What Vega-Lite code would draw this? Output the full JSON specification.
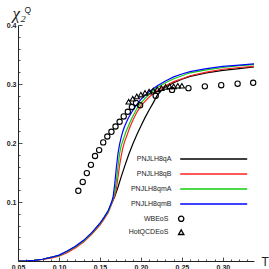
{
  "$schema": "https://vega.github.io/schema/vega-lite/v6.json",
  "width": 236,
  "height": 236,
  "autosize": "none",
  "padding": {"left": 18, "top": 25, "right": 15, "bottom": 8},
  "background": "white",
  "config": {"view": {"stroke": null}, "font": "Liberation Sans"},
  "title": {"text": "Q", "anchor": "start", "frame": "group", "font": "Liberation Sans", "fontSize": 8.5, "fontWeight": "normal", "color": "#222", "dx": 6.5, "dy": 17, "offset": 0, "baseline": "alphabetic"},
  "datasets": {
    "lines": [
      {"T": 0.05, "v": 0.0, "s": "PNJLH8qA"}, {"T": 0.06, "v": 0.0003, "s": "PNJLH8qA"}, {"T": 0.07, "v": 0.001, "s": "PNJLH8qA"}, {"T": 0.08, "v": 0.003, "s": "PNJLH8qA"}, {"T": 0.09, "v": 0.006, "s": "PNJLH8qA"}, {"T": 0.10, "v": 0.009, "s": "PNJLH8qA"}, {"T": 0.11, "v": 0.016, "s": "PNJLH8qA"}, {"T": 0.12, "v": 0.024, "s": "PNJLH8qA"}, {"T": 0.13, "v": 0.034, "s": "PNJLH8qA"}, {"T": 0.14, "v": 0.047, "s": "PNJLH8qA"}, {"T": 0.15, "v": 0.063, "s": "PNJLH8qA"}, {"T": 0.155, "v": 0.073, "s": "PNJLH8qA"}, {"T": 0.16, "v": 0.084, "s": "PNJLH8qA"}, {"T": 0.165, "v": 0.100, "s": "PNJLH8qA"}, {"T": 0.168, "v": 0.109, "s": "PNJLH8qA"}, {"T": 0.172, "v": 0.125, "s": "PNJLH8qA"}, {"T": 0.176, "v": 0.143, "s": "PNJLH8qA"}, {"T": 0.18, "v": 0.160, "s": "PNJLH8qA"}, {"T": 0.185, "v": 0.180, "s": "PNJLH8qA"}, {"T": 0.19, "v": 0.198, "s": "PNJLH8qA"}, {"T": 0.195, "v": 0.214, "s": "PNJLH8qA"}, {"T": 0.20, "v": 0.229, "s": "PNJLH8qA"}, {"T": 0.205, "v": 0.243, "s": "PNJLH8qA"}, {"T": 0.21, "v": 0.256, "s": "PNJLH8qA"}, {"T": 0.215, "v": 0.268, "s": "PNJLH8qA"}, {"T": 0.22, "v": 0.281, "s": "PNJLH8qA"}, {"T": 0.225, "v": 0.289, "s": "PNJLH8qA"}, {"T": 0.23, "v": 0.295, "s": "PNJLH8qA"}, {"T": 0.24, "v": 0.302, "s": "PNJLH8qA"}, {"T": 0.25, "v": 0.308, "s": "PNJLH8qA"}, {"T": 0.26, "v": 0.313, "s": "PNJLH8qA"}, {"T": 0.28, "v": 0.319, "s": "PNJLH8qA"}, {"T": 0.30, "v": 0.323, "s": "PNJLH8qA"}, {"T": 0.32, "v": 0.326, "s": "PNJLH8qA"}, {"T": 0.338, "v": 0.329, "s": "PNJLH8qA"},

      {"T": 0.05, "v": 0.0, "s": "PNJLH8qB"}, {"T": 0.06, "v": 0.0002, "s": "PNJLH8qB"}, {"T": 0.07, "v": 0.0008, "s": "PNJLH8qB"}, {"T": 0.08, "v": 0.0025, "s": "PNJLH8qB"}, {"T": 0.09, "v": 0.005, "s": "PNJLH8qB"}, {"T": 0.10, "v": 0.008, "s": "PNJLH8qB"}, {"T": 0.11, "v": 0.014, "s": "PNJLH8qB"}, {"T": 0.12, "v": 0.022, "s": "PNJLH8qB"}, {"T": 0.13, "v": 0.032, "s": "PNJLH8qB"}, {"T": 0.14, "v": 0.045, "s": "PNJLH8qB"}, {"T": 0.15, "v": 0.061, "s": "PNJLH8qB"}, {"T": 0.155, "v": 0.071, "s": "PNJLH8qB"}, {"T": 0.16, "v": 0.082, "s": "PNJLH8qB"}, {"T": 0.165, "v": 0.099, "s": "PNJLH8qB"}, {"T": 0.168, "v": 0.110, "s": "PNJLH8qB"}, {"T": 0.17, "v": 0.122, "s": "PNJLH8qB"}, {"T": 0.172, "v": 0.142, "s": "PNJLH8qB"}, {"T": 0.174, "v": 0.162, "s": "PNJLH8qB"}, {"T": 0.176, "v": 0.178, "s": "PNJLH8qB"}, {"T": 0.178, "v": 0.192, "s": "PNJLH8qB"}, {"T": 0.18, "v": 0.202, "s": "PNJLH8qB"}, {"T": 0.183, "v": 0.213, "s": "PNJLH8qB"}, {"T": 0.186, "v": 0.225, "s": "PNJLH8qB"}, {"T": 0.1906, "v": 0.240, "s": "PNJLH8qB"}, {"T": 0.195, "v": 0.252, "s": "PNJLH8qB"}, {"T": 0.20, "v": 0.263, "s": "PNJLH8qB"}, {"T": 0.21, "v": 0.278, "s": "PNJLH8qB"}, {"T": 0.22, "v": 0.289, "s": "PNJLH8qB"}, {"T": 0.23, "v": 0.297, "s": "PNJLH8qB"}, {"T": 0.24, "v": 0.304, "s": "PNJLH8qB"}, {"T": 0.25, "v": 0.309, "s": "PNJLH8qB"}, {"T": 0.26, "v": 0.314, "s": "PNJLH8qB"}, {"T": 0.28, "v": 0.320, "s": "PNJLH8qB"}, {"T": 0.30, "v": 0.325, "s": "PNJLH8qB"}, {"T": 0.32, "v": 0.328, "s": "PNJLH8qB"}, {"T": 0.338, "v": 0.330, "s": "PNJLH8qB"},

      {"T": 0.05, "v": 0.0, "s": "PNJLH8qmA"}, {"T": 0.06, "v": 0.0003, "s": "PNJLH8qmA"}, {"T": 0.07, "v": 0.001, "s": "PNJLH8qmA"}, {"T": 0.08, "v": 0.003, "s": "PNJLH8qmA"}, {"T": 0.09, "v": 0.006, "s": "PNJLH8qmA"}, {"T": 0.10, "v": 0.009, "s": "PNJLH8qmA"}, {"T": 0.11, "v": 0.016, "s": "PNJLH8qmA"}, {"T": 0.12, "v": 0.024, "s": "PNJLH8qmA"}, {"T": 0.13, "v": 0.034, "s": "PNJLH8qmA"}, {"T": 0.14, "v": 0.047, "s": "PNJLH8qmA"}, {"T": 0.15, "v": 0.063, "s": "PNJLH8qmA"}, {"T": 0.155, "v": 0.073, "s": "PNJLH8qmA"}, {"T": 0.16, "v": 0.083, "s": "PNJLH8qmA"}, {"T": 0.165, "v": 0.101, "s": "PNJLH8qmA"}, {"T": 0.168, "v": 0.115, "s": "PNJLH8qmA"}, {"T": 0.17, "v": 0.135, "s": "PNJLH8qmA"}, {"T": 0.172, "v": 0.160, "s": "PNJLH8qmA"}, {"T": 0.174, "v": 0.182, "s": "PNJLH8qmA"}, {"T": 0.176, "v": 0.196, "s": "PNJLH8qmA"}, {"T": 0.1795, "v": 0.210, "s": "PNJLH8qmA"}, {"T": 0.182, "v": 0.220, "s": "PNJLH8qmA"}, {"T": 0.187, "v": 0.236, "s": "PNJLH8qmA"}, {"T": 0.19, "v": 0.245, "s": "PNJLH8qmA"}, {"T": 0.195, "v": 0.258, "s": "PNJLH8qmA"}, {"T": 0.20, "v": 0.268, "s": "PNJLH8qmA"}, {"T": 0.21, "v": 0.283, "s": "PNJLH8qmA"}, {"T": 0.22, "v": 0.294, "s": "PNJLH8qmA"}, {"T": 0.23, "v": 0.302, "s": "PNJLH8qmA"}, {"T": 0.24, "v": 0.309, "s": "PNJLH8qmA"}, {"T": 0.25, "v": 0.314, "s": "PNJLH8qmA"}, {"T": 0.26, "v": 0.319, "s": "PNJLH8qmA"}, {"T": 0.28, "v": 0.324, "s": "PNJLH8qmA"}, {"T": 0.30, "v": 0.328, "s": "PNJLH8qmA"}, {"T": 0.32, "v": 0.331, "s": "PNJLH8qmA"}, {"T": 0.338, "v": 0.333, "s": "PNJLH8qmA"},

      {"T": 0.05, "v": 0.0, "s": "PNJLH8qmB"}, {"T": 0.06, "v": 0.0003, "s": "PNJLH8qmB"}, {"T": 0.07, "v": 0.001, "s": "PNJLH8qmB"}, {"T": 0.08, "v": 0.003, "s": "PNJLH8qmB"}, {"T": 0.09, "v": 0.006, "s": "PNJLH8qmB"}, {"T": 0.10, "v": 0.010, "s": "PNJLH8qmB"}, {"T": 0.11, "v": 0.017, "s": "PNJLH8qmB"}, {"T": 0.12, "v": 0.025, "s": "PNJLH8qmB"}, {"T": 0.13, "v": 0.035, "s": "PNJLH8qmB"}, {"T": 0.14, "v": 0.048, "s": "PNJLH8qmB"}, {"T": 0.15, "v": 0.064, "s": "PNJLH8qmB"}, {"T": 0.155, "v": 0.074, "s": "PNJLH8qmB"}, {"T": 0.16, "v": 0.085, "s": "PNJLH8qmB"}, {"T": 0.164, "v": 0.099, "s": "PNJLH8qmB"}, {"T": 0.166, "v": 0.108, "s": "PNJLH8qmB"}, {"T": 0.168, "v": 0.130, "s": "PNJLH8qmB"}, {"T": 0.17, "v": 0.158, "s": "PNJLH8qmB"}, {"T": 0.172, "v": 0.182, "s": "PNJLH8qmB"}, {"T": 0.174, "v": 0.198, "s": "PNJLH8qmB"}, {"T": 0.176, "v": 0.210, "s": "PNJLH8qmB"}, {"T": 0.178, "v": 0.220, "s": "PNJLH8qmB"}, {"T": 0.18, "v": 0.228, "s": "PNJLH8qmB"}, {"T": 0.1845, "v": 0.242, "s": "PNJLH8qmB"}, {"T": 0.19, "v": 0.255, "s": "PNJLH8qmB"}, {"T": 0.195, "v": 0.265, "s": "PNJLH8qmB"}, {"T": 0.20, "v": 0.274, "s": "PNJLH8qmB"}, {"T": 0.21, "v": 0.287, "s": "PNJLH8qmB"}, {"T": 0.22, "v": 0.297, "s": "PNJLH8qmB"}, {"T": 0.23, "v": 0.305, "s": "PNJLH8qmB"}, {"T": 0.24, "v": 0.312, "s": "PNJLH8qmB"}, {"T": 0.25, "v": 0.317, "s": "PNJLH8qmB"}, {"T": 0.26, "v": 0.321, "s": "PNJLH8qmB"}, {"T": 0.28, "v": 0.326, "s": "PNJLH8qmB"}, {"T": 0.30, "v": 0.330, "s": "PNJLH8qmB"}, {"T": 0.32, "v": 0.332, "s": "PNJLH8qmB"}, {"T": 0.338, "v": 0.334, "s": "PNJLH8qmB"}
    ],
    "pts": [
      {"T": 0.1236, "v": 0.119, "s": "WBEoS"}, {"T": 0.129, "v": 0.134, "s": "WBEoS"}, {"T": 0.134, "v": 0.149, "s": "WBEoS"}, {"T": 0.139, "v": 0.163, "s": "WBEoS"}, {"T": 0.144, "v": 0.178, "s": "WBEoS"}, {"T": 0.149, "v": 0.188, "s": "WBEoS"}, {"T": 0.154, "v": 0.201, "s": "WBEoS"}, {"T": 0.159, "v": 0.211, "s": "WBEoS"}, {"T": 0.164, "v": 0.219, "s": "WBEoS"}, {"T": 0.169, "v": 0.228, "s": "WBEoS"}, {"T": 0.174, "v": 0.236, "s": "WBEoS"}, {"T": 0.179, "v": 0.245, "s": "WBEoS"}, {"T": 0.184, "v": 0.253, "s": "WBEoS"}, {"T": 0.189, "v": 0.261, "s": "WBEoS"}, {"T": 0.194, "v": 0.268, "s": "WBEoS"}, {"T": 0.199, "v": 0.264, "s": "WBEoS"}, {"T": 0.218, "v": 0.280, "s": "WBEoS"}, {"T": 0.238, "v": 0.290, "s": "WBEoS"}, {"T": 0.258, "v": 0.293, "s": "WBEoS"}, {"T": 0.278, "v": 0.296, "s": "WBEoS"}, {"T": 0.298, "v": 0.298, "s": "WBEoS"}, {"T": 0.318, "v": 0.3005, "s": "WBEoS"}, {"T": 0.337, "v": 0.302, "s": "WBEoS"},
      {"T": 0.185, "v": 0.270, "s": "HotQCDEoS"}, {"T": 0.19, "v": 0.275, "s": "HotQCDEoS"}, {"T": 0.195, "v": 0.279, "s": "HotQCDEoS"}, {"T": 0.20, "v": 0.282, "s": "HotQCDEoS"}, {"T": 0.205, "v": 0.285, "s": "HotQCDEoS"}, {"T": 0.21, "v": 0.287, "s": "HotQCDEoS"}, {"T": 0.215, "v": 0.289, "s": "HotQCDEoS"}, {"T": 0.22, "v": 0.291, "s": "HotQCDEoS"}, {"T": 0.225, "v": 0.293, "s": "HotQCDEoS"}, {"T": 0.23, "v": 0.295, "s": "HotQCDEoS"}, {"T": 0.235, "v": 0.296, "s": "HotQCDEoS"}, {"T": 0.24, "v": 0.296, "s": "HotQCDEoS"}, {"T": 0.245, "v": 0.297, "s": "HotQCDEoS"}, {"T": 0.25, "v": 0.297, "s": "HotQCDEoS"}
    ]
  },
  "encoding": {
    "x": {
      "field": "T", "type": "quantitative",
      "scale": {"domain": [0.05, 0.338], "nice": false, "zero": false},
      "axis": {
        "values": [0.05,0.06,0.07,0.08,0.09,0.10,0.11,0.12,0.13,0.14,0.15,0.16,0.17,0.18,0.19,0.20,0.21,0.22,0.23,0.24,0.25,0.26,0.27,0.28,0.29,0.30,0.31,0.32,0.33],
        "labelExpr": "abs(datum.value*20 - round(datum.value*20)) < 0.001 ? format(datum.value, '.2f') : ''",
        "labelOverlap": false,
        "labelFont": "Liberation Sans", "labelFontSize": 7, "labelFontWeight": "bold", "labelColor": "#222",
        "labelAlign": "center", "labelBaseline": "top",
        "labelPadding": 6,
        "grid": false,
        "domainColor": "#222", "domainWidth": 1,
        "tickColor": "#222", "tickWidth": 0.8,
        "tickSize": {"condition": {"test": "abs(datum.value*20 - round(datum.value*20)) < 0.001", "value": -4}, "value": -2},
        "title": "T", "titleFont": "Liberation Sans", "titleFontSize": 12, "titleFontWeight": "normal", "titleColor": "#222",
        "titleAngle": 0, "titleAlign": "left", "titleBaseline": "middle", "titleX": 243, "titleY": 0
      }
    },
    "y": {
      "field": "v", "type": "quantitative",
      "scale": {"domain": [0, 0.4], "nice": false},
      "axis": {
        "values": [0,0.02,0.04,0.06,0.08,0.1,0.12,0.14,0.16,0.18,0.2,0.22,0.24,0.26,0.28,0.3,0.32,0.34,0.36,0.38,0.4],
        "labelExpr": "abs(datum.value*10 - round(datum.value*10)) < 0.001 && datum.value > 0 ? format(datum.value, '.1f') : ''",
        "labelOverlap": false,
        "labelFont": "Liberation Sans", "labelFontSize": 7, "labelFontWeight": "bold", "labelColor": "#222",
        "labelAlign": "right", "labelBaseline": "middle",
        "labelPadding": 6,
        "grid": false,
        "domainColor": "#222", "domainWidth": 1,
        "tickColor": "#222", "tickWidth": 0.8,
        "tickSize": {"condition": {"test": "abs(datum.value*10 - round(datum.value*10)) < 0.001", "value": -4}, "value": -2},
        "title": "χ₂", "titleFont": "Liberation Serif", "titleFontSize": 17, "titleFontStyle": "italic", "titleFontWeight": "normal", "titleColor": "#222",
        "titleAngle": 0, "titleAlign": "left", "titleBaseline": "alphabetic", "titleX": -6, "titleY": -6.5
      }
    }
  },
  "layer": [
    {
      "data": {"name": "lines"},
      "mark": {"type": "line", "strokeWidth": 1.2, "clip": true},
      "encoding": {
        "color": {
          "field": "s", "type": "nominal",
          "scale": {"domain": ["PNJLH8qA", "PNJLH8qB", "PNJLH8qmA", "PNJLH8qmB"], "range": ["#000000", "#ff2020", "#10cc10", "#0000ff"]},
          "legend": {
            "orient": "none", "legendX": 157.2, "legendY": 129,
            "title": null, "padding": 0,
            "symbolType": "M0,0L16.75,0", "symbolSize": 64, "symbolStrokeWidth": 1.6, "symbolFillColor": "transparent",
            "rowPadding": 6,
            "labelAlign": "right", "labelOffset": -13.8,
            "labelFont": "Liberation Sans", "labelFontSize": 7, "labelColor": "#222"
          }
        }
      }
    },
    {
      "data": {"name": "pts"},
      "mark": {"type": "point", "filled": false, "color": "#000000", "size": 28, "strokeWidth": 1.1, "opacity": 1},
      "encoding": {
        "shape": {
          "field": "s", "type": "nominal",
          "scale": {"domain": ["WBEoS", "HotQCDEoS"], "range": ["circle", "triangle-up"]},
          "legend": {
            "orient": "none", "legendX": 159.7, "legendY": 190.3,
            "title": null, "padding": 0,
            "symbolSize": 28, "symbolStrokeColor": "#000000", "symbolFillColor": "transparent", "symbolStrokeWidth": 1.3,
            "rowPadding": 2.4,
            "labelAlign": "right", "labelOffset": -16.3,
            "labelFont": "Liberation Sans", "labelFontSize": 7, "labelColor": "#222"
          }
        }
      }
    }
  ]
}
